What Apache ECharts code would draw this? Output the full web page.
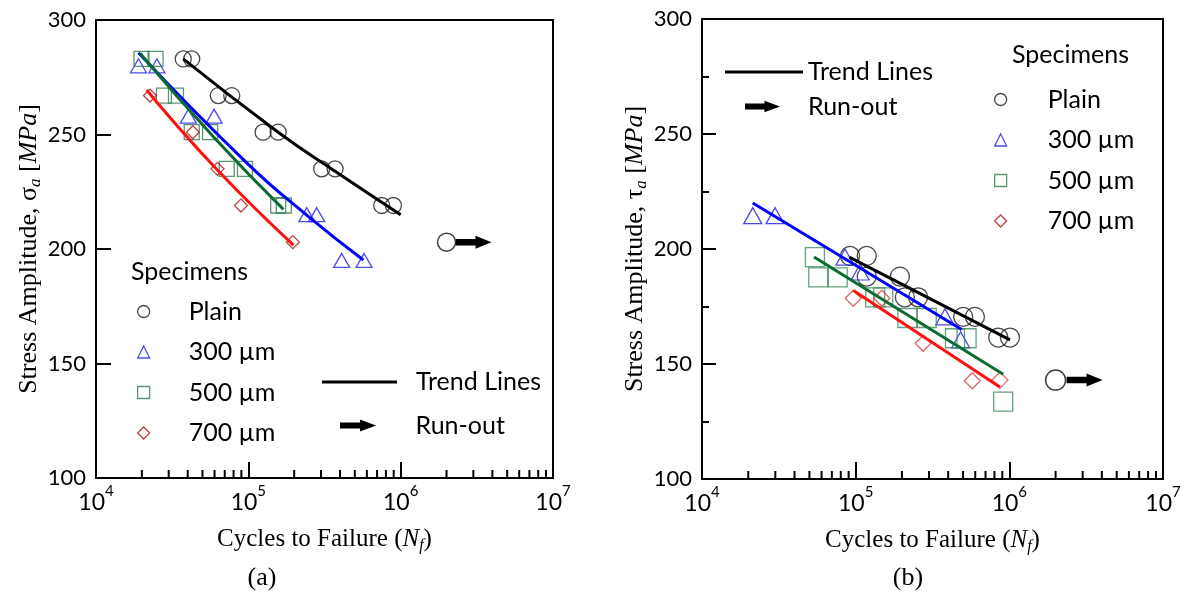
<!DOCTYPE html>
<html><head><meta charset="utf-8">
<script src="https://cdn.jsdelivr.net/npm/echarts@6/dist/echarts.min.js"></script>
<style>html,body{margin:0;padding:0;background:#fff}#c{width:1184px;height:595px}</style>
</head><body><div id="c"></div>
<script>
// ---------- data: chart (a) ----------
const aPlain = [[37400,283],[42500,283],[63500,267],[77800,267],[125000,251],[157000,251],[303000,235],[371000,235],[751000,219],[896000,219]];
const a300 = [[19000,280],[25100,280],[40400,258],[59600,258],[242000,215],[281000,215],[410000,195],[575000,195]];
const a500 = [[19900,283],[24600,283],[27900,267],[33500,267],[42500,251],[56100,251],[72100,235],[95100,235],[157000,219],[171000,219]];
const a700 = [[22600,267],[43200,251],[62700,235],[89500,219],[196000,203]];
const aRunOut = [[2000000,203]];
const aTrendPlain = [[37400,283],[157000,251],[371000,234],[1000000,215]];
const aTrend300 = [[19000,285.7],[98000,237.5],[245000,214.5],[569000,195.2]];
const aTrend500 = [[19500,285.4],[60000,248.5],[170000,217.3]];
const aTrend700 = [[21500,269.4],[62000,234.8],[198000,201.7]];

// ---------- data: chart (b) ----------
const bPlain = [[91900,197],[118000,197],[118000,188],[194000,188],[209000,179],[255000,179],[501000,170.5],[597000,170.5],[847000,161.5],[1009000,161.5]];
const b300 = [[21400,214.5],[29900,214.5],[85200,196.5],[107000,190],[381000,170.5],[482000,160.5]];
const b500 = [[54300,196.5],[57100,187.7],[76400,187.7],[134000,179],[151000,179],[217000,170],[290000,170],[443000,161.2],[527000,161.2],[912000,133.6]];
const b700 = [[96400,178.6],[148000,178.6],[275000,159],[574000,142.7],[869000,143]];
const bRunOut = [[2000000,143]];
const bTrendPlain = [[90800,196.5],[1010000,160.5]];
const bTrend300 = [[21400,220],[490000,165]];
const bTrend500 = [[53600,196.5],[912000,145.5]];
const bTrend700 = [[96600,182],[868000,140]];

// ---------- axes / labels ----------
const specimenNames = ['Plain','300 µm','500 µm','700 µm'];
const xDecades = [1e4,1e5,1e6];
const xMinorMultipliers = [2,3,4,5,6,7,8,9];
const yMin = 100, yMax = 300, yStep = 50;
const xMin = 1e4, xMax = 1e7;

const SANS = 'Lato';
const SERIF = 'Liberation Serif';
const ARROW = 'path://M0,30L20,30L20,0L36,60L20,120L20,90L0,90Z';
const ARROW_ICON = 'path://M0,3L20,3L20,0L36,6L20,12L20,9L0,9Z';

const xMinorTicks = [];
xDecades.forEach(d => xMinorMultipliers.forEach(k => xMinorTicks.push(k * d)));

function xAxisOpt(gi, majorLen) {
  return {
    type:'log', logBase:10, gridIndex:gi, min:xMin, max:xMax,
    name:'Cycles to Failure ({it|N}{sub|f})', nameLocation:'middle', nameGap:46,
    nameTextStyle:{fontFamily:SERIF, fontSize:25, color:'#000', lineHeight:30,
      rich:{it:{fontStyle:'italic', fontFamily:SERIF, fontSize:25, lineHeight:30},
            sub:{fontStyle:'italic', fontFamily:SERIF, fontSize:16, lineHeight:16, verticalAlign:'bottom'}}},
    axisLine:{show:true, onZero:false, lineStyle:{color:'#000', width:2}},
    axisTick:{show:true, inside:true, length:majorLen, lineStyle:{color:'#000', width:2}},
    axisLabel:{margin:6, formatter:v => '{b|10}{s|' + Math.round(Math.log10(v)) + '}',
      rich:{b:{fontFamily:SANS, fontSize:23, color:'#000', lineHeight:30, verticalAlign:'bottom'},
            s:{fontFamily:SANS, fontSize:15, color:'#000', lineHeight:15, verticalAlign:'top'}}},
    splitLine:{show:false}
  };
}
function yAxisOpt(gi, sym, majorLen, minor) {
  return {
    type:'value', gridIndex:gi, min:yMin, max:yMax, interval:yStep,
    name:'Stress Amplitude, ' + sym + '{sub|a} [{it|MPa}]', nameLocation:'middle', nameGap:52,
    nameTextStyle:{fontFamily:SERIF, fontSize:26, color:'#000', lineHeight:30,
      rich:{it:{fontStyle:'italic', fontFamily:SERIF, fontSize:26, lineHeight:30},
            sub:{fontStyle:'italic', fontFamily:SERIF, fontSize:17, lineHeight:17, verticalAlign:'bottom'}}},
    axisLine:{show:true, onZero:false, lineStyle:{color:'#000', width:2}},
    axisTick:{show:true, inside:true, length:majorLen, lineStyle:{color:'#000', width:2}},
    minorTick: minor ? {show:true, splitNumber:2, length:7, lineStyle:{color:'#000', width:2}} : {show:false},
    axisLabel:{margin:10, fontFamily:SANS, fontSize:22, color:'#000'},
    splitLine:{show:false}, minorSplitLine:{show:false}
  };
}
function minorTickSeries(idx, len) {
  return {
    type:'custom', xAxisIndex:idx, yAxisIndex:idx, silent:true, z:5, clip:false,
    data: xMinorTicks.map(v => [v, yMin]),
    renderItem:(params, api) => {
      const p = api.coord([api.value(0), api.value(1)]);
      return {type:'line', shape:{x1:p[0], y1:p[1], x2:p[0], y2:p[1] - len}, style:{stroke:'#000', lineWidth:2}};
    }
  };
}
function scatter(name, idx, data, symbol, size, color, bw) {
  return {name, type:'scatter', xAxisIndex:idx, yAxisIndex:idx, data, symbol, symbolSize:size, silent:true, z:3,
    itemStyle:{color:'rgba(0,0,0,0)', borderColor:color, borderWidth:bw || 1.3}};
}
function trend(name, idx, data, color) {
  return {name, type:'line', xAxisIndex:idx, yAxisIndex:idx, data, symbol:'none', showSymbol:false, smooth:true, silent:true, z:4,
    itemStyle:{color}, lineStyle:{color, width:3}};
}
function runOut(idx, data, circleSize, offset) {
  return [
    scatter('runout-point-' + idx, idx, data, 'circle', circleSize, '#111', 1.5),
    {name:'Run-out', type:'scatter', xAxisIndex:idx, yAxisIndex:idx, data, symbol:ARROW,
     symbolSize:[36,13], symbolOffset:[offset,0], silent:true, z:3,
     itemStyle:{color:'#000', borderWidth:0, opacity:1}}
  ];
}
const legendText = {fontFamily:SANS, fontSize:25, color:'#000', lineHeight:24};
function legend(names, left, top, iw, ih, gap, extra) {
  return Object.assign({show:true, orient:'vertical', left, top, padding:0, itemWidth:iw, itemHeight:ih, itemGap:15.5,
    selectedMode:false, data:names, formatter:'{g| }{name}',
    textStyle:Object.assign({}, legendText, {rich:{g:{width:gap, lineHeight:24}}}),
    itemStyle:{borderWidth:1.3}}, extra || {});
}
const trendLegendExtra = {icon:'rect', itemStyle:{color:'#000', borderWidth:0}};
const runLegendExtra = {icon:ARROW_ICON, itemStyle:{color:'#000', borderWidth:0}};

const option = {
  animation:false,
  backgroundColor:'#fff',
  grid:[
    {left:96, top:20, width:457, height:458, show:true, borderColor:'#000', borderWidth:2},
    {left:702, top:19, width:461, height:460, show:true, borderColor:'#000', borderWidth:2}
  ],
  xAxis:[xAxisOpt(0, 16), xAxisOpt(1, 17)],
  yAxis:[yAxisOpt(0, 'σ', 15, false), yAxisOpt(1, 'τ', 14, true)],
  legend:[
    legend(specimenNames, 137, 299, 12, 12, 34),
    legend(['Trend Lines'], 322, 369.5, 75, 3, 14, trendLegendExtra),
    legend(['Run-out'], 340, 413, 37, 12, 34, runLegendExtra),
    legend(specimenNames, 994, 87, 12, 12, 36),
    legend(['Trend Lines'], 725, 59.5, 78, 3, 0, trendLegendExtra),
    legend(['Run-out'], 745, 94, 35, 12, 23, runLegendExtra)
  ],
  graphic:[
    {type:'text', x:131, y:272, style:{text:'Specimens', fontFamily:SANS, fontSize:25, fill:'#000', verticalAlign:'middle', align:'left'}},
    {type:'text', x:1012, y:55, style:{text:'Specimens', fontFamily:SANS, fontSize:25, fill:'#000', verticalAlign:'middle', align:'left'}},
    {type:'text', x:262, y:578, style:{text:'(a)', fontFamily:SERIF, fontSize:26, fill:'#000', verticalAlign:'middle', align:'center'}},
    {type:'text', x:908, y:578, style:{text:'(b)', fontFamily:SERIF, fontSize:26, fill:'#000', verticalAlign:'middle', align:'center'}}
  ],
  series:[
    scatter('Plain', 0, aPlain, 'circle', 16, '#1a1a1a'),
    scatter('300 µm', 0, a300, 'triangle', [16,14], '#2020e8'),
    scatter('500 µm', 0, a500, 'rect', 15, '#2e7d4f'),
    scatter('700 µm', 0, a700, 'diamond', [13,13], '#a31515'),
    ...runOut(0, aRunOut, 18, 27),
    trend('Trend Lines', 0, aTrendPlain, '#000'),
    trend('trend-a-300', 0, aTrend300, '#0000ff'),
    trend('trend-a-500', 0, aTrend500, '#0b6b30'),
    trend('trend-a-700', 0, aTrend700, '#ff1010'),
    minorTickSeries(0, 8),

    scatter('Plain', 1, bPlain, 'circle', 19, '#1a1a1a'),
    scatter('300 µm', 1, b300, 'triangle', [18,16], '#1c1cd8'),
    scatter('500 µm', 1, b500, 'rect', 19, '#3d8a5e'),
    scatter('700 µm', 1, b700, 'diamond', [16,16], '#d04444'),
    ...runOut(1, bRunOut, 20, 29),
    trend('Trend Lines', 1, bTrendPlain, '#000'),
    trend('trend-b-300', 1, bTrend300, '#0000ff'),
    trend('trend-b-500', 1, bTrend500, '#0b6b30'),
    trend('trend-b-700', 1, bTrend700, '#ff1010'),
    minorTickSeries(1, 8)
  ]
};
const chart = echarts.init(document.getElementById('c'));
chart.setOption(option);
</script>
</body></html>
